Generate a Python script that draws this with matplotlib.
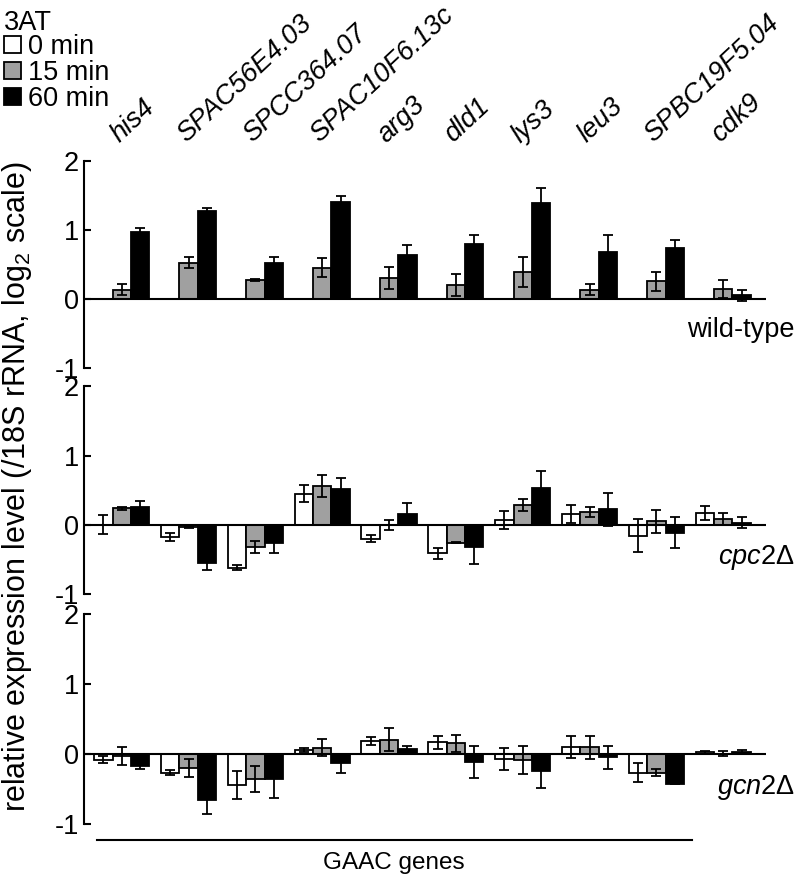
import matplotlib
matplotlib.use("Agg")
import matplotlib.pyplot as plt
from matplotlib.patches import Patch
import numpy as np

plt.rcParams['font.family'] = ['Liberation Sans', 'DejaVu Sans']
plt.rcParams['mathtext.fontset'] = 'custom'
plt.rcParams['mathtext.rm'] = 'Liberation Sans'
plt.rcParams['mathtext.it'] = 'Liberation Sans:italic'
plt.rcParams['axes.unicode_minus'] = False

genes = ["his4", "SPAC56E4.03", "SPCC364.07", "SPAC10F6.13c", "arg3",
         "dld1", "lys3", "leu3", "SPBC19F5.04", "cdk9"]
times = ["0 min", "15 min", "60 min"]
strains = ["wild-type", r"$\mathit{cpc2}$Δ", r"$\mathit{gcn2}$Δ"]

# wild-type
wt_0 = [0, 0, 0, 0, 0, 0, 0, 0, 0, 0]
wt_0_err = [0, 0, 0, 0, 0, 0, 0, 0, 0, 0]
wt_15 = [0.13, 0.52, 0.27, 0.45, 0.30, 0.20, 0.39, 0.13, 0.25, 0.14]
wt_15_err = [0.08, 0.08, 0.02, 0.14, 0.16, 0.16, 0.22, 0.08, 0.14, 0.13]
wt_60 = [0.96, 1.27, 0.52, 1.40, 0.64, 0.79, 1.39, 0.68, 0.73, 0.05]
wt_60_err = [0.06, 0.05, 0.09, 0.09, 0.14, 0.13, 0.21, 0.25, 0.12, 0.08]

# cpc2 delta
cpc_0 = [0.0, -0.18, -0.62, 0.45, -0.205, -0.41, 0.07, 0.15, -0.16, 0.17]
cpc_0_err = [0.14, 0.06, 0.04, 0.125, 0.05, 0.08, 0.13, 0.13, 0.24, 0.10]
cpc_15 = [0.235, -0.03, -0.32, 0.565, 0.0, -0.26, 0.29, 0.18, 0.05, 0.08]
cpc_15_err = [0.02, 0.01, 0.09, 0.16, 0.07, 0.01, 0.085, 0.075, 0.17, 0.09]
cpc_60 = [0.26, -0.55, -0.27, 0.51, 0.16, -0.32, 0.53, 0.225, -0.115, 0.03]
cpc_60_err = [0.09, 0.10, 0.14, 0.16, 0.15, 0.25, 0.24, 0.24, 0.22, 0.075]

# gcn2 delta
gcn_0 = [-0.085, -0.27, -0.45, 0.05, 0.185, 0.16, -0.075, 0.10, -0.27, 0.02]
gcn_0_err = [0.045, 0.04, 0.20, 0.03, 0.055, 0.10, 0.16, 0.155, 0.13, 0.02]
gcn_15 = [-0.035, -0.205, -0.36, 0.085, 0.20, 0.15, -0.085, 0.09, -0.27, 0.0]
gcn_15_err = [0.125, 0.13, 0.185, 0.125, 0.165, 0.12, 0.20, 0.17, 0.05, 0.04]
gcn_60 = [-0.17, -0.66, -0.36, -0.14, 0.06, -0.12, -0.25, -0.05, -0.43, 0.03]
gcn_60_err = [0.05, 0.21, 0.27, 0.13, 0.05, 0.225, 0.24, 0.165, 0.01, 0.02]

panels = [
    [(wt_0, wt_0_err), (wt_15, wt_15_err), (wt_60, wt_60_err)],
    [(cpc_0, cpc_0_err), (cpc_15, cpc_15_err), (cpc_60, cpc_60_err)],
    [(gcn_0, gcn_0_err), (gcn_15, gcn_15_err), (gcn_60, gcn_60_err)],
]

colors = ["white", "#a0a0a0", "black"]
FS = 19.5

fig = plt.figure(figsize=(7.98, 8.82), dpi=100)
W, H = 798.0, 882.0
left = 84.3 / W
width = (766 - 84.3) / W
tops_px = [160.7, 386.3, 614.0]
bots_px = [367.7, 594.0, 823.5]

x = np.arange(len(genes))
bw = 0.275
axes = []
for p in range(3):
    b = 1 - bots_px[p] / H
    h = (bots_px[p] - tops_px[p]) / H
    ax = fig.add_axes([left, b, width, h])
    axes.append(ax)
    for k in range(3):
        vals, errs = panels[p][k]
        pos = x + (k - 1) * bw
        ax.bar(pos, vals, width=bw, color=colors[k], edgecolor="black",
               linewidth=1.3, zorder=2)
        errs = np.array(errs, dtype=float)
        mask = errs > 0
        ax.errorbar(pos[mask], np.array(vals)[mask], yerr=errs[mask], fmt="none",
                    ecolor="black", elinewidth=1.3, capsize=3.4, capthick=1.3,
                    zorder=3)
    ax.axhline(0, color="black", linewidth=1.5, zorder=4)
    ax.set_xlim(-0.56, 9.64)
    ax.set_ylim(-1, 2)
    ax.set_yticks([-1, 0, 1, 2])
    ax.set_yticklabels(["-1", "0", "1", "2"])
    ax.tick_params(axis="y", direction="in", length=5, width=1.5,
                   labelsize=FS, pad=4)
    ax.set_xticks([])
    for s in ["top", "right", "bottom"]:
        ax.spines[s].set_visible(False)
    ax.spines["left"].set_linewidth(1.5)
    ax.patch.set_alpha(0)

# strain labels
label_y = [-0.45, -0.47, -0.48]
for p in range(3):
    axes[p].text(10.07, label_y[p], strains[p], fontsize=FS, ha="right",
                 va="center", clip_on=False)

# gene labels
for i, g in enumerate(genes):
    axes[0].text(i - 0.04, 2.25, g, fontsize=FS, style="italic",
                 rotation=43, rotation_mode="anchor", ha="left",
                 va="baseline", clip_on=False)

# GAAC genes bracket
axes[2].plot([-0.374, 8.53], [-1.232, -1.232], color="black",
             linewidth=1.5, clip_on=False)
axes[2].text((-0.374 + 8.53) / 2, -1.41, "GAAC genes", fontsize=17.5,
             ha="center", va="top", clip_on=False)

# y label
fig.text(17 / W, 1 - 487 / H,
         r"relative expression level (/18S rRNA, log$_{\mathrm{2}}$ scale)",
         rotation=90, fontsize=22, ha="center", va="center")

# legend
fig.text(4 / W, 1 - 30 / H, "3AT", fontsize=FS, ha="left", va="baseline")
handles = [Patch(facecolor=c, edgecolor="black", linewidth=1.3) for c in colors]
leg = fig.legend(handles, times, loc="upper left",
                 bbox_to_anchor=(4 / W, 1 - 34 / H), frameon=False,
                 fontsize=FS,
                 handlelength=0.63, handleheight=0.63, handletextpad=0.26,
                 labelspacing=0.0, borderpad=0, borderaxespad=0)

fig.savefig("out.png", dpi=100)
